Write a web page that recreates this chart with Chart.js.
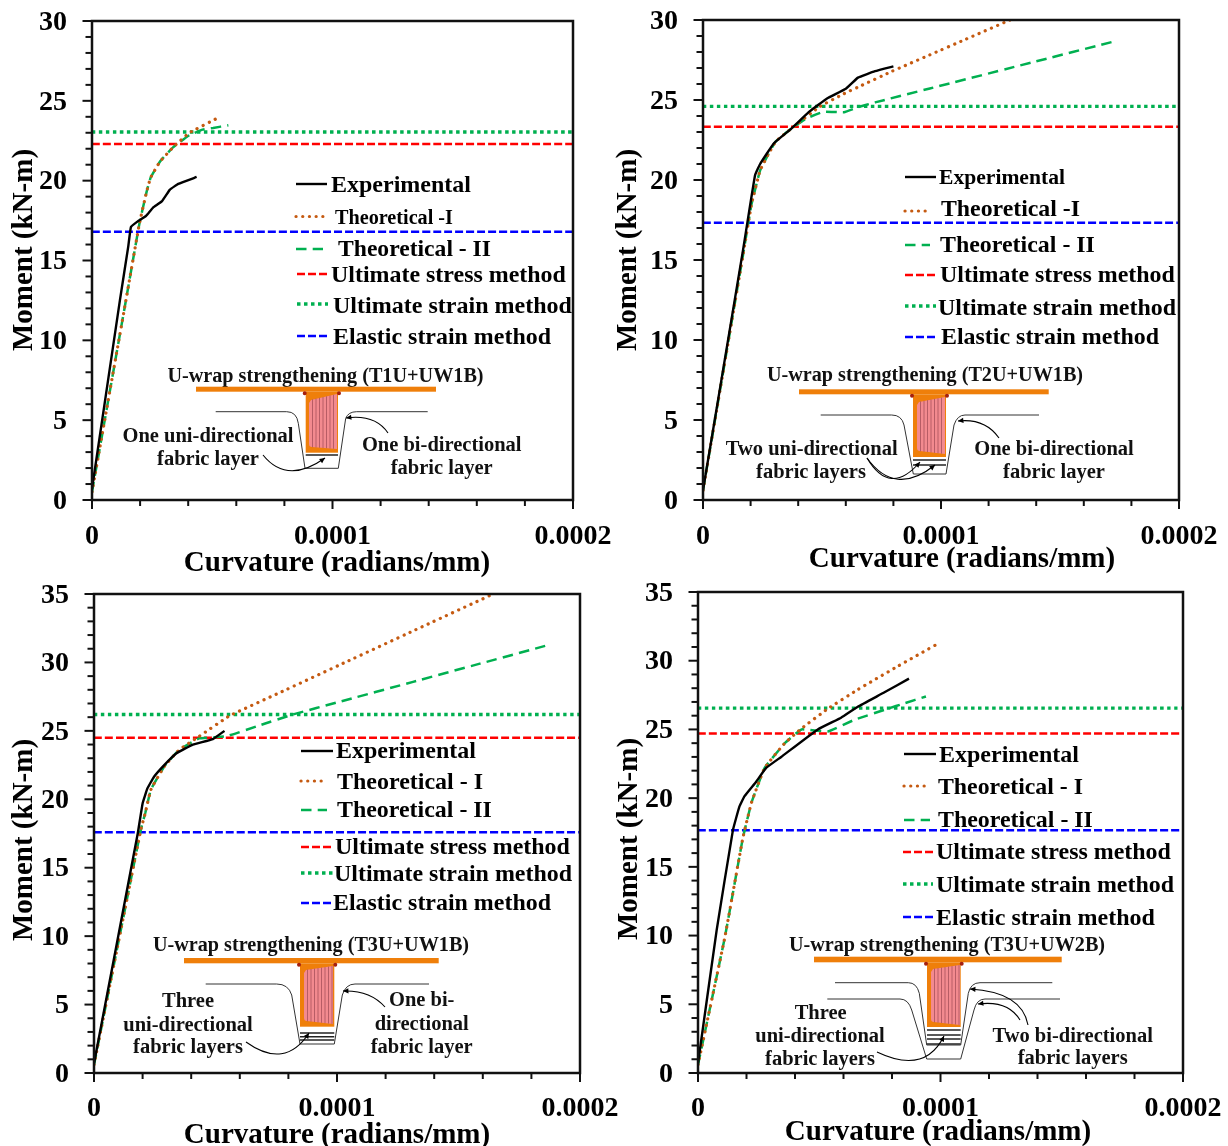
<!DOCTYPE html>
<html><head><meta charset="utf-8">
<style>html,body{margin:0;padding:0;background:#fff}body{width:1228px;height:1146px;overflow:hidden;position:relative}canvas{position:absolute}</style>
<script src="https://cdn.jsdelivr.net/npm/chart.js@4"></script>
</head><body>
<canvas id="c1" width="625" height="580" style="left:0;top:0;width:625px;height:580px"></canvas>
<canvas id="c2" width="623" height="580" style="left:605px;top:0;width:623px;height:580px"></canvas>
<canvas id="c3" width="625" height="571" style="left:0;top:575px;width:625px;height:571px"></canvas>
<canvas id="c4" width="623" height="571" style="left:605px;top:575px;width:623px;height:571px"></canvas>
<script>
/* ---------- data (curvature in radians/mm, moment in kN-m) ---------- */
const p1ExperimentalX=[0,0.116e-4,0.151e-4,0.162e-4,0.19e-4,0.225e-4,0.253e-4,0.29e-4,0.324e-4,0.359e-4,0.435e-4];
const p1ExperimentalY=[0.7,12.5,15.9,17.1,17.45,17.8,18.3,18.7,19.44,19.8,20.23];
const p1TheoryOneX=[0,0.144e-4,0.197e-4,0.227e-4,0.244e-4,0.283e-4,0.338e-4,0.405e-4,0.523e-4];
const p1TheoryOneY=[0.5,12.76,17.3,19.3,20.2,21.2,22.1,23,23.93];
const p1TheoryTwoX=[0,0.144e-4,0.197e-4,0.227e-4,0.244e-4,0.283e-4,0.338e-4,0.405e-4,0.46e-4,0.504e-4,0.567e-4];
const p1TheoryTwoY=[0.5,12.76,17.3,19.3,20.2,21.2,22.1,22.85,23.2,23.3,23.47];
const p1Levels=[22.3,23.05,16.8];

const p2ExperimentalX=[0,0.168e-4,0.2187e-4,0.24e-4,0.298e-4,0.37e-4,0.449e-4,0.521e-4,0.6e-4,0.651e-4,0.723e-4,0.8e-4];
const p2ExperimentalY=[0.6,15.6,20.3,21,22.3,23.2,24.3,25.1,25.7,26.4,26.8,27.1];
const p2TheoryOneX=[0,0.168e-4,0.204e-4,0.24e-4,0.274e-4,0.305e-4,0.37e-4,0.492e-4,0.593e-4,0.665e-4,0.795e-4,0.953e-4,1.097e-4,1.29e-4];
const p2TheoryOneY=[0.6,15.3,18.5,20.6,21.6,22.4,23.2,24.6,25.4,25.9,26.8,27.82,28.75,30];
const p2TheoryTwoX=[0,0.168e-4,0.204e-4,0.24e-4,0.274e-4,0.305e-4,0.37e-4,0.435e-4,0.507e-4,0.593e-4,0.651e-4,0.723e-4,0.953e-4,1.385e-4,1.73e-4];
const p2TheoryTwoY=[0.6,15.3,18.5,20.6,21.6,22.4,23.2,23.85,24.27,24.23,24.55,24.85,25.72,27.36,28.67];
const p2Levels=[23.33,24.6,17.33];

const p3ExperimentalX=[0,0.18e-4,0.2e-4,0.22e-4,0.247e-4,0.289e-4,0.338e-4,0.407e-4,0.489e-4,0.537e-4];
const p3ExperimentalY=[0.7,17.5,19.7,20.8,21.65,22.5,23.35,24,24.4,25];
const p3TheoryOneX=[0,0.193e-4,0.211e-4,0.234e-4,0.289e-4,0.35e-4,0.433e-4,0.558e-4,0.764e-4,1.038e-4,1.313e-4,1.643e-4];
const p3TheoryOneY=[0.6,17.8,19,20.7,22.4,23.6,24.6,26.1,27.79,30.04,32.3,35];
const p3TheoryTwoX=[0,0.193e-4,0.211e-4,0.234e-4,0.289e-4,0.35e-4,0.433e-4,0.544e-4,0.681e-4,0.819e-4,1.011e-4,1.313e-4,1.588e-4,1.876e-4];
const p3TheoryTwoY=[0.6,17.8,19,20.7,22.4,23.6,24.45,24.6,25.4,26.2,27.13,28.58,29.91,31.3];
const p3Levels=[24.5,26.2,17.6];

const p4ExperimentalX=[0,0.077e-4,0.144e-4,0.171e-4,0.192e-4,0.24e-4,0.281e-4,0.343e-4,0.494e-4,0.59e-4,0.659e-4,0.769e-4,0.87e-4];
const p4ExperimentalY=[0.7,10.4,17.67,19.4,20.15,21.2,22.2,23,25,25.85,26.65,27.7,28.7];
const p4TheoryOneX=[0,0.111e-4,0.185e-4,0.221e-4,0.275e-4,0.357e-4,0.427e-4,0.535e-4,0.659e-4,0.824e-4,0.98e-4];
const p4TheoryOneY=[0.6,9.9,17.1,19.7,22.2,23.98,25.07,26.5,27.9,29.6,31.15];
const p4TheoryTwoX=[0,0.111e-4,0.185e-4,0.221e-4,0.275e-4,0.357e-4,0.427e-4,0.535e-4,0.645e-4,0.782e-4,0.851e-4,0.94e-4];
const p4TheoryTwoY=[0.6,9.9,17.1,19.7,22.2,23.98,25.0,24.85,25.7,26.5,26.9,27.4];
const p4Levels=[24.7,26.55,17.67];

const xTickLabels=['0','0.0001','0.0002'];
const seriesNamesA=['Experimental','Theoretical -I','Theoretical - II','Ultimate stress method','Ultimate strain method','Elastic strain method'];
const seriesNamesB=['Experimental','Theoretical - I','Theoretical - II','Ultimate stress method','Ultimate strain method','Elastic strain method'];
const xAxisTitle='Curvature (radians/mm)';
const yAxisTitle='Moment (kN-m)';

/* ---------- styles ---------- */
const SERIF='"Liberation Serif","Times New Roman",serif';
const ORANGE='#EF7F0A',PINK='#F38A8F';
const styles=[
 {borderColor:'#000',borderWidth:2.4,borderDash:[]},
 {borderColor:'#C55A11',borderWidth:3.2,borderDash:[0.1,6.6],borderCapStyle:'round'},
 {borderColor:'#00B050',borderWidth:2.5,borderDash:[10.5,6.2]},
 {borderColor:'#FF0000',borderWidth:2.5,borderDash:[8,3]},
 {borderColor:'#00B050',borderWidth:3.4,borderDash:[3.5,3.5]},
 {borderColor:'#0000FF',borderWidth:2.5,borderDash:[8,3]}
];
const zip=(xs,ys)=>xs.map((x,i)=>({x,y:ys[i]}));
const flat=v=>[{x:0,y:v},{x:2e-4,y:v}];

/* ---------- page-layout of each panel ---------- */
const panels=[
 {id:'c1',left:0,top:0,w:625,h:580,x0:92,x1:573,y0:500,y1:21,yMax:30,names:seriesNamesA,
  curves:[zip(p1ExperimentalX,p1ExperimentalY),zip(p1TheoryOneX,p1TheoryOneY),zip(p1TheoryTwoX,p1TheoryTwoY)],levels:p1Levels,
  yTitle:[23,250],xTitle:[337,571],yPad:25,xPad:20,
  legend:[[296,327,184,331,191.5,471],[296,323,216.5,335,223.5,453],[296,323,249,338,256,491],[297,327,274,331,282,566],[297,328,304,333,313,572],[297,327,336,333,344,551]],
  beam:{title:'U-wrap strengthening (T1U+UW1B)',tc:325.5,tb:382,fl:[196,436,386.7,391.7],web:[305.7,338,391.7,452.7],pink:[309,337,400,394,447,449],
   layers:[455],u:[[215.7,411.7,286.7,296.7,298.3,423.3,305,468.3,338.3,345.7,348.3,418.3,356.7,427.7]],
   arrows:[[263,455,287,485,325,458],[388,433,375,414,346,418]],
   text:[['One uni-directional',208,441.7],['fabric layer',208,465],['One bi-directional',441.7,450.7],['fabric layer',441.7,474]]}},
 {id:'c2',left:605,top:0,w:623,h:580,x0:703,x1:1179,y0:500,y1:20,yMax:30,names:seriesNamesA,
  curves:[zip(p2ExperimentalX,p2ExperimentalY),zip(p2TheoryOneX,p2TheoryOneY),zip(p2TheoryTwoX,p2TheoryTwoY)],levels:p2Levels,
  yTitle:[627,250],xTitle:[962,567],yPad:25,xPad:20,
  legend:[[905,936,177,939,184,1065],[905,930,211,941,216,1080],[905,930,245,940,252,1095],[905,936,275,940,282,1175],[905,936,306,938,315,1176],[905,936,337,941,344,1159]],
  beam:{title:'U-wrap strengthening (T2U+UW1B)',tc:925,tb:380.7,fl:[799,1048.7,389.3,394.3],web:[913,946,394.3,457],pink:[917,945,402,397,451,454],
   layers:[460,465],u:[[820.7,415,891.7,901.7,904,425,913.3,474,946,954,957.3,425,965,1039]],
   arrows:[[867,458,890,497,920,462],[867,458,895,497,935,465],[999,438,985,418,958,421]],
   text:[['Two uni-directional',811.7,455],['fabric layers',811,478],['One bi-directional',1054,455],['fabric layer',1054,478]]}},
 {id:'c3',left:0,top:575,w:625,h:571,x0:94,x1:580,y0:1073,y1:594,yMax:35,names:seriesNamesB,
  curves:[zip(p3ExperimentalX,p3ExperimentalY),zip(p3TheoryOneX,p3TheoryOneY),zip(p3TheoryTwoX,p3TheoryTwoY)],levels:p3Levels,
  yTitle:[23,840],xTitle:[337,1143],yPad:25,xPad:19,
  legend:[[301,333,751,336,758,476],[301,327,781,337,789,483],[301,327,810,337,817,492],[301,333,847,335,854,570],[301,333,873,334,881,572],[301,333,903,333,910,551]],
  beam:{title:'U-wrap strengthening (T3U+UW1B)',tc:311,tb:951,fl:[184,438.7,958,963.3],web:[300,334.3,963.3,1026.7],pink:[304,333,970,966,1021,1024],
   layers:[1033,1036.7,1040],u:[[205.7,984,276.7,288.3,291.7,995,300,1044,334.3,342.3,345.7,995,355,429]],
   arrows:[[246,1042,285,1070,309,1033],[385,1007,370,990,343,991]],
   text:[['Three',188,1007],['uni-directional',188,1030.7],['fabric layers',188,1053],['One bi-',421.7,1006],['directional',421.7,1030],['fabric layer',421.7,1052.7]]}},
 {id:'c4',left:605,top:575,w:623,h:571,x0:698,x1:1183,y0:1073,y1:592,yMax:35,names:seriesNamesB,
  curves:[zip(p4ExperimentalX,p4ExperimentalY),zip(p4TheoryOneX,p4TheoryOneY),zip(p4TheoryTwoX,p4TheoryTwoY)],levels:p4Levels,
  yTitle:[628,839],xTitle:[938,1140],yPad:25,xPad:19,
  legend:[[904,936,754,939,762,1079],[904,930,786,938,794,1083],[904,930,820,938,827,1093],[903,933,852,936,859,1171],[903,933,884,936,892,1174],[903,933,917,936,925,1155]],
  beam:{title:'U-wrap strengthening (T3U+UW2B)',tc:947,tb:950.7,fl:[814,1061.7,956.7,962.3],web:[927,960.7,962.3,1027],pink:[931,960,969,965,1022,1025],
   layers:[1030,1035,1039,1044],u:[[835,982.7,908.3,916.7,919.3,993.3,926.7,1045,960.7,968.3,970.7,993.3,980,1052.3],[827.3,999,900,908.3,911.7,1010,926.7,1059,960.7,974,976.7,1010,985,1060]],
   arrows:[[877,1052,925,1075,944,1036],[1028,1025,1022,992,970,989],[1020,1020,1008,1000,978,1004]],
   text:[['Three',820.7,1019],['uni-directional',820,1042],['fabric layers',820,1065],['Two bi-directional',1072.7,1041.7],['fabric layers',1072.7,1064]]}}
];

/* ---------- drawing helpers ---------- */
function fitText(ctx,str,x,base,endX,guess){
  ctx.font='bold '+guess+'px '+SERIF;
  const size=guess*(endX-x)/ctx.measureText(str).width;
  ctx.font='bold '+size.toFixed(2)+'px '+SERIF;
  ctx.textAlign='left';ctx.textBaseline='alphabetic';ctx.fillStyle='#000';
  ctx.fillText(str,x,base);
}
function arrow(ctx,a){
  const [x0,y0,cx,cy,x1,y1]=a;
  ctx.strokeStyle='#000';ctx.lineWidth=1.1;ctx.setLineDash([]);
  ctx.beginPath();ctx.moveTo(x0,y0);ctx.quadraticCurveTo(cx,cy,x1,y1);ctx.stroke();
  const t=Math.atan2(y1-cy,x1-cx),L=6;
  ctx.beginPath();ctx.moveTo(x1,y1);
  ctx.lineTo(x1-L*Math.cos(t-0.45),y1-L*Math.sin(t-0.45));
  ctx.lineTo(x1-L*Math.cos(t+0.45),y1-L*Math.sin(t+0.45));
  ctx.closePath();ctx.fillStyle='#000';ctx.fill();
}
function drawBeam(ctx,b){
  ctx.save();ctx.setLineDash([]);
  ctx.font='bold 20.2px '+SERIF;ctx.textAlign='center';ctx.textBaseline='alphabetic';ctx.fillStyle='#111';
  ctx.fillText(b.title,b.tc,b.tb);
  const [fa,fb,ft,fe]=b.fl,[wa,wb,wt,we]=b.web,[pa,pb,ptl,ptr,pbl,pbr]=b.pink;
  ctx.fillStyle=ORANGE;
  ctx.fillRect(fa,ft,fb-fa,fe-ft);ctx.fillRect(wa,wt,wb-wa,we-wt);
  ctx.fillStyle='#A5200F';
  ctx.beginPath();ctx.arc(wa-1,wt+1.5,2,0,7);ctx.arc(wb+1,wt+1.5,2,0,7);ctx.fill();
  ctx.fillStyle=PINK;
  ctx.beginPath();ctx.moveTo(pa+2,ptl);ctx.lineTo(pb,ptr);ctx.lineTo(pb,pbr);ctx.lineTo(pa+3,pbl);ctx.quadraticCurveTo(pa,pbl,pa,pbl-3);ctx.lineTo(pa,ptl+3);ctx.closePath();ctx.fill();
  ctx.strokeStyle='#A8505A';ctx.lineWidth=0.8;
  for(let s=pa+3.5;s<pb;s+=3.5){const f=(s-pa)/(pb-pa);ctx.beginPath();ctx.moveTo(s,ptl+(ptr-ptl)*f);ctx.lineTo(s,pbl+(pbr-pbl)*f);ctx.stroke();}
  ctx.strokeStyle='#222';ctx.lineWidth=1.4;
  b.layers.forEach(y=>{ctx.beginPath();ctx.moveTo(wa,y);ctx.lineTo(wb,y);ctx.stroke();});
  ctx.strokeStyle='#333';ctx.lineWidth=1;
  b.u.forEach(u=>{const [a,y,b1,c,dx,dy,f,bot,g,h,ci,iy,j,k]=u;
    ctx.beginPath();ctx.moveTo(a,y);ctx.lineTo(b1,y);ctx.quadraticCurveTo(c,y,dx,dy);ctx.lineTo(f,bot);ctx.lineTo(g,bot);ctx.lineTo(h,iy);ctx.quadraticCurveTo(ci,y,j,y);ctx.lineTo(k,y);ctx.stroke();});
  b.arrows.forEach(a=>arrow(ctx,a));
  ctx.font='bold 20.5px '+SERIF;ctx.textAlign='center';ctx.fillStyle='#111';
  b.text.forEach(t=>ctx.fillText(t[0],t[1],t[2]));
  ctx.restore();
}

const decorate={
  id:'decorate',
  afterDraw(chart,args,o){
    const p=o.panel,ctx=chart.ctx,xs=chart.scales.x,ys=chart.scales.y,a=chart.chartArea;
    ctx.save();
    /* ticks, from the library's own scales */
    ctx.strokeStyle='#111';ctx.setLineDash([]);ctx.lineWidth=2;
    ys.ticks.forEach((t,i)=>{const yy=ys.getPixelForTick(i),L=(t.value%5===0)?9.5:6.5;ctx.beginPath();ctx.moveTo(a.left,yy);ctx.lineTo(a.left-L,yy);ctx.stroke();});
    xs.ticks.forEach((t,i)=>{const xx=xs.getPixelForTick(i),L=(i%5===0)?9:6;ctx.beginPath();ctx.moveTo(xx,a.bottom);ctx.lineTo(xx,a.bottom+L);ctx.stroke();});
    ctx.lineWidth=2.5;ctx.strokeRect(a.left,a.top,a.right-a.left,a.bottom-a.top);
    /* everything below is given in page pixels */
    ctx.translate(-p.left,-p.top);
    ctx.fillStyle='#000';ctx.font='bold 29px '+SERIF;ctx.textAlign='center';ctx.textBaseline='alphabetic';
    ctx.fillText(xAxisTitle,p.xTitle[0],p.xTitle[1]);
    ctx.save();ctx.translate(p.yTitle[0]+9,p.yTitle[1]);ctx.rotate(-Math.PI/2);ctx.fillText(yAxisTitle,0,0);ctx.restore();
    /* legend, labels and styles from the datasets */
    chart.data.datasets.forEach((d,i)=>{
      const [sa,sb,sy,tx,base,ex]=p.legend[i];
      ctx.strokeStyle=d.borderColor;ctx.lineWidth=d.borderWidth;ctx.setLineDash(d.borderDash||[]);ctx.lineCap=d.borderCapStyle||'butt';
      ctx.beginPath();ctx.moveTo(sa,sy);ctx.lineTo(sb,sy);ctx.stroke();
      ctx.setLineDash([]);ctx.lineCap='butt';
      fitText(ctx,d.label,tx,base,ex,24);
    });
    drawBeam(ctx,p.beam);
    ctx.restore();
  }
};
function clearScalePadding(s){s.paddingTop=0;s.paddingBottom=0;s.paddingLeft=0;s.paddingRight=0;}

panels.forEach(p=>{
  const yW=60,xH=60;
  const series=p.curves.concat(p.levels.map(flat));
  const datasets=series.map((pts,i)=>Object.assign({label:p.names[i],data:pts,pointRadius:0,fill:false,tension:0.1},styles[i]));
  new Chart(document.getElementById(p.id).getContext('2d'),{
    type:'line',
    data:{datasets},
    options:{
      responsive:false,animation:false,devicePixelRatio:1,parsing:false,normalized:true,
      layout:{autoPadding:false,padding:{left:p.x0-p.left-yW,right:p.left+p.w-p.x1,top:p.y1-p.top,bottom:p.top+p.h-p.y0-xH}},
      plugins:{legend:{display:false},tooltip:{enabled:false},title:{display:false},decorate:{panel:p}},
      scales:{
        x:{type:'linear',min:0,max:2e-4,
          afterFit(s){s.height=xH;clearScalePadding(s);},
          afterBuildTicks(s){s.ticks=[...Array(11).keys()].map(i=>({value:i*2e-5}));},
          grid:{display:false,drawTicks:false},border:{display:false},
          ticks:{autoSkip:false,maxRotation:0,minRotation:0,padding:p.xPad,color:'#000',font:{family:SERIF,weight:'bold',size:28},
            callback(v,i){return i%5===0?xTickLabels[i/5]:'';}}},
        y:{type:'linear',min:0,max:p.yMax,
          afterFit(s){s.width=yW;clearScalePadding(s);},
          grid:{display:false,drawTicks:false},border:{display:false},
          ticks:{stepSize:1,autoSkip:false,padding:p.yPad,labelOffset:1.5,color:'#000',font:{family:SERIF,weight:'bold',size:28},
            callback(v){return v%5===0?String(v):'';}}}
      }
    },
    plugins:[decorate]
  });
});
</script>
</body></html>
